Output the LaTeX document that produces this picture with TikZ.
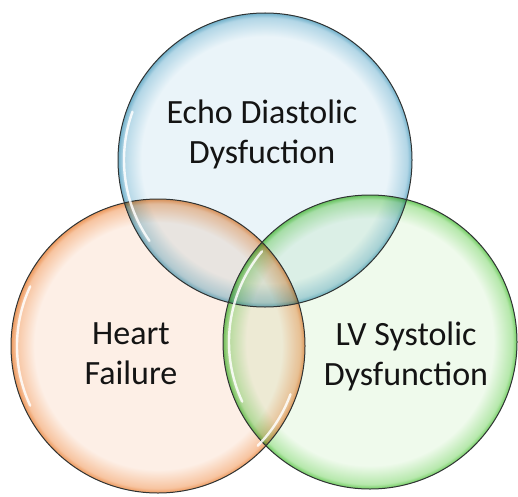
\documentclass[tikz,border=0pt]{standalone}
\usepackage{fontspec}
\setmainfont{Carlito}
\definecolor{blueIn}{RGB}{234,244,249}
\definecolor{blueMid}{RGB}{178,214,230}
\definecolor{blueOut}{RGB}{112,176,202}
\definecolor{orangeIn}{RGB}{253,239,230}
\definecolor{orangeMid}{RGB}{247,196,160}
\definecolor{orangeOut}{RGB}{236,152,92}
\definecolor{greenIn}{RGB}{239,250,236}
\definecolor{greenMid}{RGB}{182,232,172}
\definecolor{greenOut}{RGB}{112,204,96}
\definecolor{rimdark}{RGB}{48,52,52}
\pgfdeclareradialshading{bubbleblue}{\pgfpoint{0bp}{0bp}}{color(0bp)=(blueIn); color(21bp)=(blueIn); color(24.2bp)=(blueMid); color(25bp)=(blueOut); color(50bp)=(blueOut)}
\pgfdeclareradialshading{bubbleorange}{\pgfpoint{0bp}{0bp}}{color(0bp)=(orangeIn); color(21bp)=(orangeIn); color(24.2bp)=(orangeMid); color(25bp)=(orangeOut); color(50bp)=(orangeOut)}
\pgfdeclareradialshading{bubblegreen}{\pgfpoint{0bp}{0bp}}{color(0bp)=(greenIn); color(21bp)=(greenIn); color(24.2bp)=(greenMid); color(25bp)=(greenOut); color(50bp)=(greenOut)}

\begin{document}
\begin{tikzpicture}[x=1pt,y=1pt,
  bubble/.style={blend mode=multiply},
  rim/.style={draw=rimdark,line width=1pt},
  gloss/.style={white,line width=2.4pt,opacity=0.85,line cap=round},
  venntext/.style={align=center,font=\fontsize{34}{40}\selectfont,text=black!92}]
\useasboundingbox (0,0) rectangle (518,496);
% centres of the three bubbles
\coordinate (echoC) at (265,336);
\coordinate (heartC) at (158,150);
\coordinate (lvC) at (370,154);
% ---------- bubbles ----------
\shade[bubble,shading=bubbleblue] (echoC) circle (147pt);
\shade[bubble,shading=bubbleorange] (heartC) circle (147pt);
\shade[bubble,shading=bubblegreen] (lvC) circle (147pt);
% rims
\draw[rim] (echoC) circle (147pt);
\draw[rim] (heartC) circle (147pt);
\draw[rim] (lvC) circle (147pt);
% glossy highlights
\draw[gloss] (echoC) ++(160:141pt) arc[start angle=160,end angle=215,radius=141pt];
\draw[gloss] (heartC) ++(155:141pt) arc[start angle=155,end angle=205,radius=141pt];
\draw[gloss] (heartC) ++(-45:141pt) arc[start angle=-45,end angle=-20,radius=141pt];
\draw[gloss] (lvC) ++(140:141pt) arc[start angle=140,end angle=205,radius=141pt];
% ---------- labels ----------
\node[venntext] (echo) at (262,362) {Echo Diastolic\\Dysfuction};
\node[venntext] (heart) at (131,142) {Heart\\Failure};
\node[venntext] (lv) at (406,140) {LV Systolic\\Dysfunction};
\end{tikzpicture}
\end{document}
